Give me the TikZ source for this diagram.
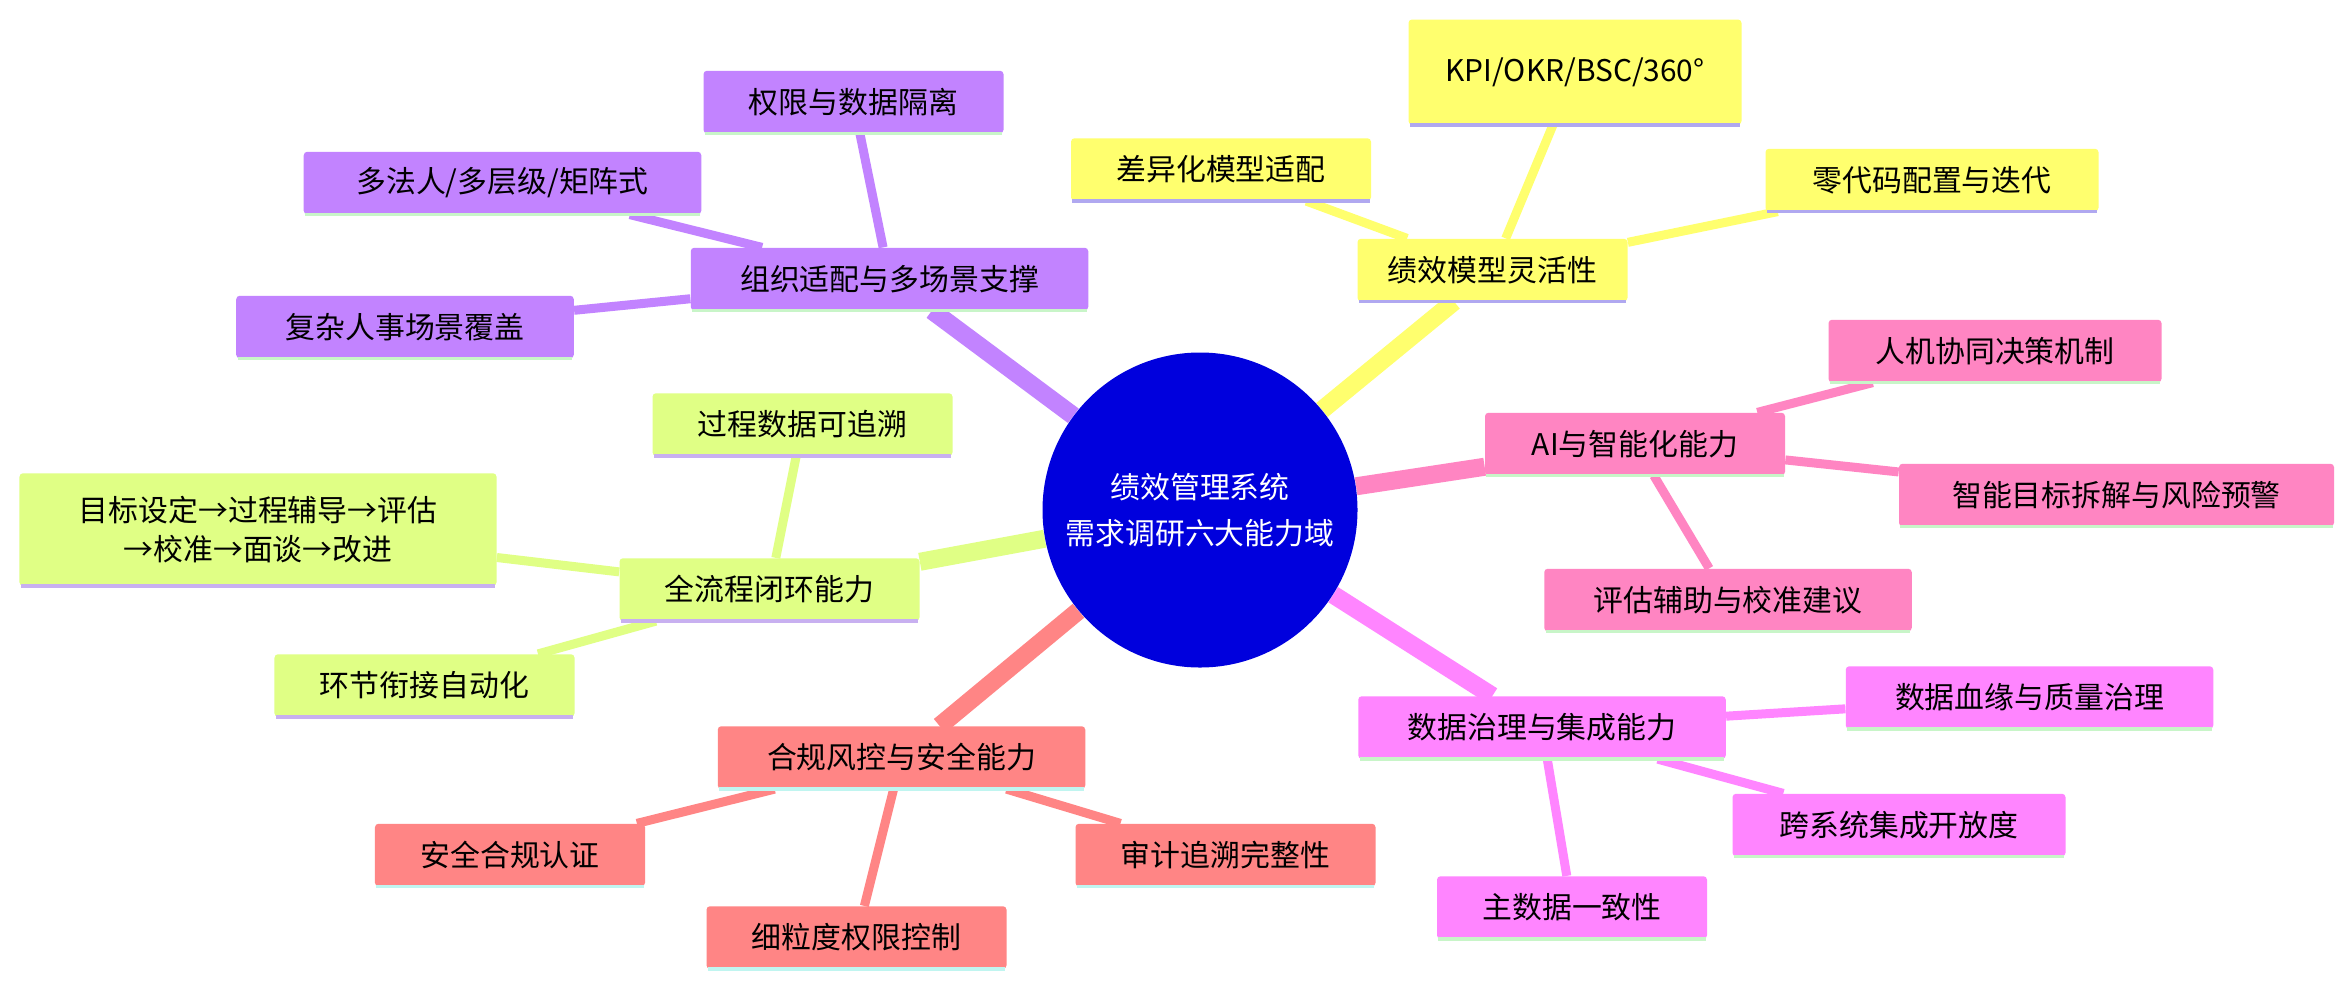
\documentclass[tikz,border=0pt]{standalone}
\usepackage{fontspec}
\setmainfont{Noto Sans CJK SC}
\usetikzlibrary{backgrounds}
\definecolor{cP}{HTML}{C283FF}
\definecolor{cY}{HTML}{FFFF6E}
\definecolor{cH}{HTML}{FF85C2}
\definecolor{cM}{HTML}{FF85FF}
\definecolor{cR}{HTML}{FF8585}
\definecolor{cG}{HTML}{E0FF85}
\definecolor{uP}{HTML}{C8F5C8}
\definecolor{uY}{HTML}{B0A8F0}
\definecolor{uG}{HTML}{C8B0F0}
\definecolor{uR}{HTML}{C0F5F0}
\definecolor{root}{HTML}{0000DD}
\tikzset{box/.style={rounded corners=2pt,inner sep=0pt,minimum height=1.25cm,font=\fontsize{17}{22}\selectfont,align=center},
 big/.style={line width=0.36cm},sm/.style={line width=0.18cm}}
\begin{document}
\begin{tikzpicture}[x=0.03cm,y=-0.03cm]
\useasboundingbox (0,0) rectangle (1568,661.33);
\node[circle,fill=root,minimum size=6.3cm,text=white,font=\fontsize{17}{26}\selectfont,align=center] (r) at (800,340) {绩效管理系统\\需求调研六大能力域};
% purple
\node[box,fill=cP,minimum width=7.95cm] (p) at (593,186) {组织适配与多场景支撑};
\node[box,fill=cP,minimum width=6cm] (p1) at (569,68) {权限与数据隔离};
\node[box,fill=cP,minimum width=7.95cm] (p2) at (335,122) {多法人/多层级/矩阵式};
\node[box,fill=cP,minimum width=6.75cm] (p3) at (270,218) {复杂人事场景覆盖};
% yellow
\node[box,fill=cY,minimum width=5.4cm] (y) at (995,180) {绩效模型灵活性};
\node[box,fill=cY,minimum width=6.66cm,minimum height=2.1cm] (y1) at (1050,48) {KPI/OKR/BSC/360°};
\node[box,fill=cY,minimum width=6cm] (y2) at (814,113) {差异化模型适配};
\node[box,fill=cY,minimum width=6.66cm] (y3) at (1288,120) {零代码配置与迭代};
% hot pink
\node[box,fill=cH,minimum width=6cm] (h) at (1090,296) {AI与智能化能力};
\node[box,fill=cH,minimum width=6.66cm] (h1) at (1330,234) {人机协同决策机制};
\node[box,fill=cH,minimum width=8.7cm] (h2) at (1411,330) {智能目标拆解与风险预警};
\node[box,fill=cH,minimum width=7.35cm] (h3) at (1152,400) {评估辅助与校准建议};
% magenta
\node[box,fill=cM,minimum width=7.35cm] (m) at (1028,485) {数据治理与集成能力};
\node[box,fill=cM,minimum width=7.35cm] (m1) at (1353,465) {数据血缘与质量治理};
\node[box,fill=cM,minimum width=6.66cm] (m2) at (1266,550) {跨系统集成开放度};
\node[box,fill=cM,minimum width=5.4cm] (m3) at (1048,605) {主数据一致性};
% red
\node[box,fill=cR,minimum width=7.35cm] (d) at (601,505) {合规风控与安全能力};
\node[box,fill=cR,minimum width=5.4cm] (d1) at (340,570) {安全合规认证};
\node[box,fill=cR,minimum width=6cm] (d2) at (817,570) {审计追溯完整性};
\node[box,fill=cR,minimum width=6cm] (d3) at (571,625) {细粒度权限控制};
% green
\node[box,fill=cG,minimum width=6cm] (g) at (513,393) {全流程闭环能力};
\node[box,fill=cG,minimum width=6cm] (g1) at (535,283) {过程数据可追溯};
\node[box,fill=cG,minimum width=9.54cm,minimum height=2.25cm] (g2) at (172,353) {目标设定→过程辅导→评估\\→校准→面谈→改进};
\node[box,fill=cG,minimum width=6cm] (g3) at (283,457) {环节衔接自动化};
\foreach \n/\c in {p/uP,p1/uP,p2/uP,p3/uP,y/uY,y1/uY,y2/uY,y3/uY,h/uP,h1/uP,h2/uP,h3/uP,m/uP,m1/uP,m2/uP,m3/uP,d/uR,d1/uR,d2/uR,d3/uR,g/uG,g1/uG,g2/uG,g3/uG}
 \draw[\c,line width=2pt] ([xshift=1pt]\n.south west) -- ([xshift=-1pt]\n.south east);
\begin{scope}[on background layer]
\fill[white] (0,0) rectangle (1568,661.33);
\draw[big,cP] (r) -- (p); \draw[big,cY] (r) -- (y); \draw[big,cH] (r) -- (h);
\draw[big,cM] (r) -- (m); \draw[big,cR] (r) -- (d); \draw[big,cG] (r) -- (g);
\foreach \a/\c in {p1/cP,p2/cP,p3/cP} \draw[sm,\c] (p) -- (\a);
\foreach \a/\c in {y1/cY,y2/cY,y3/cY} \draw[sm,\c] (y) -- (\a);
\foreach \a/\c in {h1/cH,h2/cH,h3/cH} \draw[sm,\c] (h) -- (\a);
\foreach \a/\c in {m1/cM,m2/cM,m3/cM} \draw[sm,\c] (m) -- (\a);
\foreach \a/\c in {d1/cR,d2/cR,d3/cR} \draw[sm,\c] (d) -- (\a);
\foreach \a/\c in {g1/cG,g2/cG,g3/cG} \draw[sm,\c] (g) -- (\a);
\end{scope}
\end{tikzpicture}
\end{document}
